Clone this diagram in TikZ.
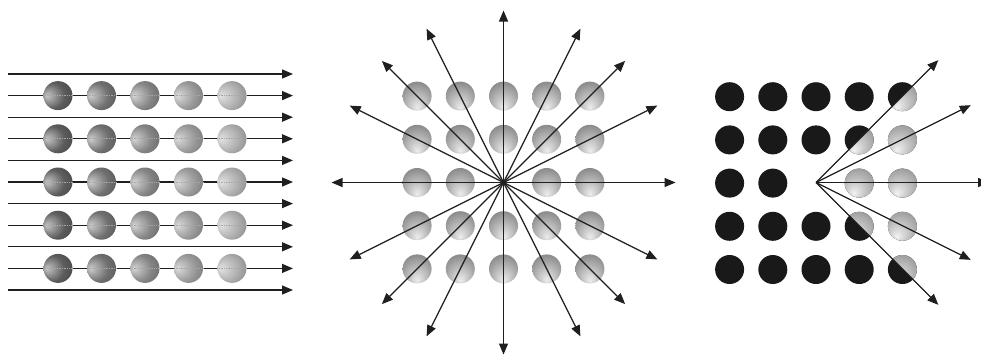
\documentclass[tikz,border=0pt]{standalone}
\usetikzlibrary{arrows.meta}
\colorlet{sphc}{black!50}
\pgfdeclareradialshading[sphc]{lsph}{\pgfpoint{-20bp}{0bp}}{color(0bp)=(sphc!35!white); color(22bp)=(sphc); color(42bp)=(sphc!72!black); color(50bp)=(sphc!25!black)}
\pgfdeclareradialshading{msph}{\pgfpoint{0bp}{-20bp}}{color(0bp)=(black!7); color(14bp)=(black!24); color(34bp)=(black!48); color(50bp)=(black!62)}
\pgfdeclareradialshading{rsph}{\pgfpoint{-10bp}{-18bp}}{color(0bp)=(black!5); color(14bp)=(black!20); color(34bp)=(black!40); color(50bp)=(black!54)}
\tikzset{
  ray/.style={draw=black!88, line width=1.3pt, -{Triangle[length=11pt,width=9pt]}},
  lball/.style={circle, inner sep=0pt, minimum size=29pt, shading=lsph},
  mball/.style={circle, inner sep=0pt, minimum size=29pt, shading=msph},
  rball/.style={circle, inner sep=0pt, minimum size=29pt, shading=rsph},
  dball/.style={circle, inner sep=0pt, minimum size=29pt, fill=black!90},
  chord/.style={draw=black!35, densely dotted, line width=0.7pt}
}
\begin{document}
\begin{tikzpicture}[x=1pt,y=-1pt]
\useasboundingbox (0,0) rectangle (981,354);
% ---------- left panel: parallel beam ----------
\foreach \i in {0,...,10} {
  \coordinate (Ls\i) at (8,74+21.6*\i);
  \coordinate (Le\i) at (293,74+21.6*\i);
  \draw[ray] (Ls\i) -- (Le\i);
}
\foreach \r in {1,...,5} {
  \foreach \c/\g in {1/64,2/56,3/48,4/40,5/32} {
    \colorlet{sphc}{black!\g}
    \node[lball] (L\r\c) at (58+43.5*\c-43.5,95.6+43.2*\r-43.2) {};
    \draw[chord] (L\r\c.west) -- (L\r\c.east);
  }
}
% ---------- middle panel: point source ----------
\coordinate (M) at (503.5,182.5);
\foreach \r in {1,...,5} {
  \foreach \c in {1,...,5} {
    \pgfmathtruncatemacro{\skip}{(\r==3)&&(\c==3)}
    \ifnum\skip=0
      \node[mball] (M\r\c) at (417.1+43.2*\c-43.2,96.1+43.2*\r-43.2) {};
    \fi
  }
}
\foreach \a [count=\k] in {0,26.565,45,63.435,90,116.565,135,153.435,180,206.565,225,243.435,270,296.565,315,333.435} {
  \path (M) ++(\a:172) coordinate (Me\k);
  \draw[ray] (M) -- (Me\k);
}
% ---------- right panel: cone ----------
\coordinate (R) at (816,182.5);
\foreach \r in {1,...,5} {
  \foreach \c in {1,...,5} {
    \pgfmathtruncatemacro{\skip}{(\r==3)&&(\c==3)}
    \ifnum\skip=0
      \node[dball] (R\r\c) at (729.6+43.2*\c-43.2,96.7+43.2*\r-43.2) {};
    \fi
  }
}
\begin{scope}
  \clip (R) -- ++(45:300) -- ++(-90:424.3) -- cycle;
  \foreach \r/\c in {1/5,2/4,2/5,3/4,3/5,4/4,4/5,5/5} {
    \node[rball] (S\r\c) at (R\r\c) {};
  }
\end{scope}
\foreach \a [count=\k] in {45,26.565,0,-26.565,-45} {
  \path (R) ++(\a:173) coordinate (Re\k);
  \draw[ray] (R) -- (Re\k);
}
\end{tikzpicture}
\end{document}
